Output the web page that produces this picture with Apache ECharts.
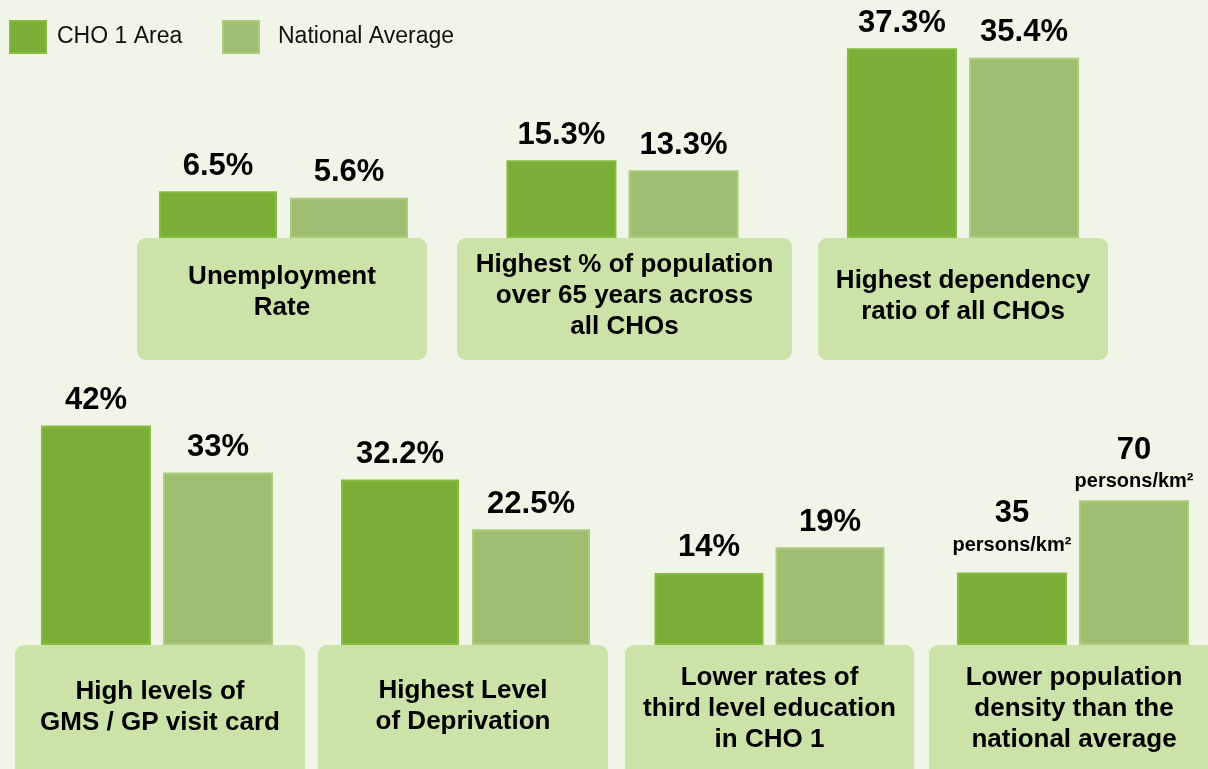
<!DOCTYPE html>
<html>
<head>
<meta charset="utf-8">
<script src="https://cdn.jsdelivr.net/npm/echarts@6/dist/echarts.min.js"></script>
<style>
  html, body { margin: 0; padding: 0; background: #f0f5e8; }
  #chart { width: 1208px; height: 769px; }
</style>
</head>
<body>
<div id="chart"></div>
<script>
  // chart data
  const seriesNames = ['CHO 1 Area', 'National Average'];
  const panelTitles = [
    'Unemployment\nRate',
    'Highest % of population\nover 65 years across\nall CHOs',
    'Highest dependency\nratio of all CHOs',
    'High levels of\nGMS / GP visit card',
    'Highest Level\nof Deprivation',
    'Lower rates of\nthird level education\nin CHO 1',
    'Lower population\ndensity than the\nnational average'
  ];
  const cho1Values = [6.5, 15.3, 37.3, 42, 32.2, 14, 35];
  const nationalValues = [5.6, 13.3, 35.4, 33, 22.5, 19, 70];
  const valueUnits = ['%', '%', '%', '%', '%', '%', 'persons/km²'];

  // layout of each panel: bar area left/width, bar width, axis max, label box
  const panelLeft = [159, 507, 847, 41, 341, 654, 957];
  const panelWidth = [249, 231, 232, 232, 249, 231, 232];
  const barWidths = [118, 110, 110, 110, 118, 109, 110];
  const axisMax = [27.8, 39.3, 39.3, 45.9, 46.7, 46.6, 116];
  const rowOf = [0, 0, 0, 1, 1, 1, 1];
  const rowTop = [38, 405];
  const rowHeight = [200, 240];
  const boxes = [
    [137, 238, 290, 122], [457, 238, 335, 122], [818, 238, 290, 122],
    [15, 645, 290, 135], [318, 645, 290, 135], [625, 645, 289, 135], [929, 645, 290, 135]
  ];
  const textCenterY = [292, 296, 296, 707, 706, 709, 709];
  // label gap above the bar, [CHO 1, National] per panel
  const labelGap = [[7, 7], [7, 7], [7, 7], [7, 7], [7, 7], [7, 7], [14, 5]];

  const colors = ['#7aae36', '#9fbe72'];
  const edgeColors = ['#86bb40', '#abcc7d'];
  const FONT = '"Liberation Sans", Arial, sans-serif';

  const chart = echarts.init(document.getElementById('chart'));

  const grids = [], xAxes = [], yAxes = [], series = [], graphics = [];

  panelTitles.forEach(function (title, i) {
    const r = rowOf[i];
    grids.push({ left: panelLeft[i], width: panelWidth[i], top: rowTop[r], height: rowHeight[r] });
    xAxes.push({ type: 'category', gridIndex: i, data: [''], show: false });
    yAxes.push({ type: 'value', gridIndex: i, min: 0, max: axisMax[i], show: false });

    [cho1Values, nationalValues].forEach(function (vals, s) {
      series.push({
        name: seriesNames[s],
        type: 'bar',
        xAxisIndex: i,
        yAxisIndex: i,
        barWidth: barWidths[i],
        barGap: '11%',
        data: [vals[i]],
        itemStyle: { color: colors[s], borderColor: edgeColors[s], borderWidth: 2 },
        label: {
          show: true,
          position: 'top',
          distance: labelGap[i][s],
          color: '#000',
          fontFamily: FONT,
          formatter: function (p) {
            if (valueUnits[i] === '%') return '{v|' + p.value + '%}';
            return '{v|' + p.value + '}\n{u|' + valueUnits[i] + '}';
          },
          rich: {
            v: { fontSize: 31, fontWeight: 'bold', fontFamily: FONT, color: '#000', lineHeight: 36 },
            u: { fontSize: 20, fontWeight: 'bold', fontFamily: FONT, color: '#000', lineHeight: 27 }
          }
        },
        silent: true
      });
    });

    const b = boxes[i];
    graphics.push({
      type: 'rect',
      shape: { x: b[0], y: b[1], width: b[2], height: b[3], r: 9 },
      style: { fill: '#cbe2a8' },
      z: 100
    });
    graphics.push({
      type: 'text',
      x: b[0] + b[2] / 2,
      y: textCenterY[i],
      style: {
        text: title,
        fill: '#000',
        font: 'bold 26px ' + FONT,
        lineHeight: 31,
        align: 'center',
        verticalAlign: 'middle'
      },
      z: 101
    });
  });

  const legendBase = {
    top: 20,
    padding: 0,
    icon: 'rect',
    itemWidth: 36,
    itemHeight: 32,
    selectedMode: false,
    textStyle: { fontSize: 23, color: '#111', fontFamily: FONT }
  };

  chart.setOption({
    backgroundColor: '#f0f5e8',
    animation: false,
    color: colors,
    legend: [
      Object.assign({}, legendBase, { left: 9, data: [seriesNames[0]], textStyle: Object.assign({}, legendBase.textStyle, { padding: [6, 0, 0, 6] }) }),
      Object.assign({}, legendBase, { left: 222, data: [seriesNames[1]], textStyle: Object.assign({}, legendBase.textStyle, { padding: [6, 0, 0, 14] }) })
    ],
    grid: grids,
    xAxis: xAxes,
    yAxis: yAxes,
    series: series,
    graphic: graphics
  });
</script>
</body>
</html>
